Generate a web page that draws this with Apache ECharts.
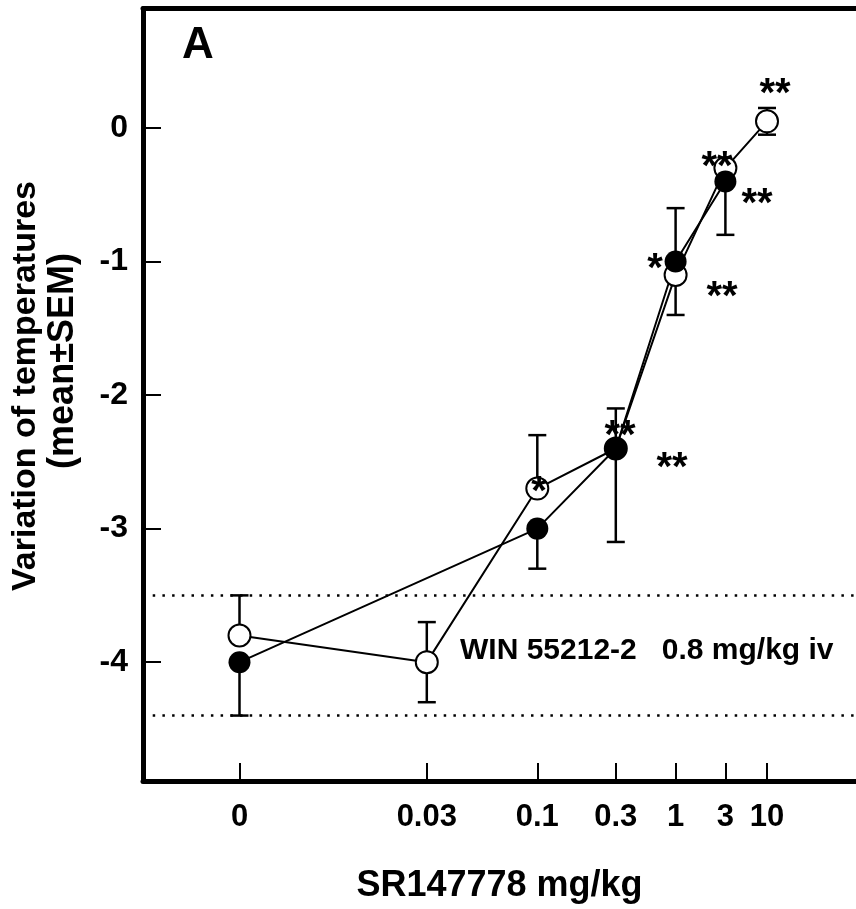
<!DOCTYPE html>
<html>
<head>
<meta charset="utf-8">
<title>SR147778 vs WIN 55212-2 hypothermia</title>
<script src="https://cdn.jsdelivr.net/npm/echarts@6/dist/echarts.min.js"></script>
<style>
  html, body { margin: 0; padding: 0; background: #fff; }
  #chart { width: 856px; height: 909px; }
</style>
</head>
<body>
<div id="chart"></div>
<script>
// doses and where they sit on the (non-linear) dose axis, in axis units
const doseLabels = ['0', '0.03', '0.1', '0.3', '1', '3', '10'];
const dosePos = [9.65, 28.38, 39.43, 47.28, 53.26, 58.24, 62.4];

// open circles
const openMean  = [-3.8, -4.0, -2.7, -2.4, -1.1, -0.3, 0.05];
const openUpper = [-3.5, -3.7, -2.3, -2.1, null, null, 0.15];
const openLower = [null, -4.3, null, null, -1.4, null, -0.05];

// filled circles (no 0.03 / 10 mg/kg)
const filledMean  = [-4.0, null, -3.0, -2.4, -1.0, -0.4, null];
const filledUpper = [null, null, null, null, -0.6, null, null];
const filledLower = [-4.4, null, -3.3, -3.1, null, -0.8, null];

// WIN 55212-2 0.8 mg/kg iv reference band (dotted lines)
const winBand = [-3.5, -4.4];

const yTicks = [0, -1, -2, -3, -4];

// significance marks [x (axis units), y, text]
const starMarks = [
  [63.2, 0.25, '**'],
  [57.4, -0.3, '**'],
  [61.4, -0.58, '**'],
  [51.2, -1.06, '*'],
  [57.9, -1.27, '**'],
  [47.7, -2.31, '**'],
  [52.9, -2.55, '**'],
  [39.6, -2.73, '*']
];

const FONT = 'Liberation Sans, Arial, sans-serif';

function points (mean) {
  const out = [];
  mean.forEach((v, i) => { if (v != null) out.push([dosePos[i], v]); });
  return out;
}

function errorData (mean, upper, lower) {
  const out = [];
  mean.forEach((v, i) => {
    if (v == null) return;
    out.push([dosePos[i], v, upper[i] == null ? v : upper[i], lower[i] == null ? v : lower[i]]);
  });
  return out;
}

function renderError (params, api) {
  const x = api.value(0);
  const m = api.value(1);
  const c = api.coord([x, m]);
  const cap = 9;
  const children = [];
  [2, 3].forEach(k => {
    const v = api.value(k);
    if (v === m) return;
    const p = api.coord([x, v]);
    children.push({ type: 'line', shape: { x1: c[0], y1: c[1], x2: p[0], y2: p[1] }, style: { stroke: '#000', lineWidth: 2.5 } });
    children.push({ type: 'line', shape: { x1: p[0] - cap, y1: p[1], x2: p[0] + cap, y2: p[1] }, style: { stroke: '#000', lineWidth: 2.5 } });
  });
  return { type: 'group', children };
}

const tickLabel = (v) => {
  let best = 0;
  dosePos.forEach((p, i) => { if (Math.abs(p - v) < Math.abs(dosePos[best] - v)) best = i; });
  return doseLabels[best];
};

const option = {
  animation: false,
  backgroundColor: '#fff',
  grid: { left: 143, right: 0, top: 8.5, bottom: 128 },
  xAxis: [
    {
      type: 'value', min: 0, max: 71.3,
      axisLine: { onZero: false, lineStyle: { color: '#000', width: 5 } },
      axisTick: { inside: true, length: 18, customValues: dosePos, lineStyle: { color: '#000', width: 2 } },
      axisLabel: {
        customValues: dosePos, formatter: tickLabel, margin: 21,
        color: '#000', fontSize: 31, fontWeight: 'bold', fontFamily: FONT
      },
      splitLine: { show: false },
      name: 'SR147778 mg/kg', nameLocation: 'middle', nameGap: 87,
      nameTextStyle: { color: '#000', fontSize: 36, fontWeight: 'bold', fontFamily: FONT }
    },
    {
      type: 'value', position: 'top', min: 0, max: 71.3,
      axisLine: { onZero: false, lineStyle: { color: '#000', width: 5 } },
      axisTick: { show: false }, axisLabel: { show: false }, splitLine: { show: false }
    }
  ],
  yAxis: {
    type: 'value', min: -4.89, max: 0.895,
    axisLine: { show: true, onZero: false, lineStyle: { color: '#000', width: 5 } },
    axisTick: { show: true, inside: true, length: 18, customValues: yTicks, lineStyle: { color: '#000', width: 2 } },
    axisLabel: {
      customValues: yTicks, margin: 15,
      color: '#000', fontSize: 32, fontWeight: 'bold', fontFamily: FONT
    },
    splitLine: { show: false }
  },
  graphic: [
    { type: 'text', x: 182, y: 45.5, style: { text: 'A', fontSize: 44, fontWeight: 'bold', fontFamily: FONT, fill: '#000', verticalAlign: 'middle' } },
    { type: 'text', x: 460, y: 651, style: { text: 'WIN 55212-2   0.8 mg/kg iv', fontSize: 30, fontWeight: 'bold', fontFamily: FONT, fill: '#000', verticalAlign: 'middle' } },
    { type: 'text', x: 26, y: 386, rotation: Math.PI / 2, style: { text: 'Variation of temperatures', fontSize: 34, fontWeight: 'bold', fontFamily: FONT, fill: '#000', align: 'center', verticalAlign: 'middle' } },
    { type: 'text', x: 63, y: 361, rotation: Math.PI / 2, style: { text: '(mean±SEM)', fontSize: 36, fontWeight: 'bold', fontFamily: FONT, fill: '#000', align: 'center', verticalAlign: 'middle' } }
  ],
  series: [
    {
      type: 'custom', name: 'open err', z: 1, renderItem: renderError,
      encode: { x: 0, y: [1, 2, 3] }, data: errorData(openMean, openUpper, openLower),
      markLine: {
        silent: true, symbol: 'none', label: { show: false },
        lineStyle: { color: '#000', width: 2.5, type: [2.5, 7.2] },
        data: winBand.map(v => ({ yAxis: v }))
      }
    },
    {
      type: 'custom', name: 'filled err', z: 1, renderItem: renderError,
      encode: { x: 0, y: [1, 2, 3] }, data: errorData(filledMean, filledUpper, filledLower)
    },
    {
      type: 'line', name: 'open', z: 2, data: points(openMean), showSymbol: false,
      lineStyle: { color: '#000', width: 2 }
    },
    {
      type: 'line', name: 'filled', z: 2, data: points(filledMean), showSymbol: false,
      lineStyle: { color: '#000', width: 2 }
    },
    {
      type: 'scatter', name: 'open pts', z: 3, data: points(openMean), symbolSize: 22,
      itemStyle: { color: '#fff', borderColor: '#000', borderWidth: 2, opacity: 1 }
    },
    {
      type: 'scatter', name: 'filled pts', z: 4, data: points(filledMean), symbolSize: 22,
      itemStyle: { color: '#000', opacity: 1 }
    },
    {
      type: 'scatter', name: 'stars', z: 5, symbolSize: 0, silent: true,
      itemStyle: { color: '#000', opacity: 1 },
      data: starMarks.map(s => ({ value: [s[0], s[1]], label: { formatter: s[2] } })),
      label: {
        show: true, position: 'inside', color: '#000', opacity: 1,
        textBorderWidth: 0, textBorderColor: 'transparent',
        fontSize: 40, fontWeight: 'bold', fontFamily: FONT
      }
    }
  ]
};

const myChart = echarts.init(document.getElementById('chart'));
myChart.setOption(option);
window.onresize = myChart.resize;
</script>
</body>
</html>
